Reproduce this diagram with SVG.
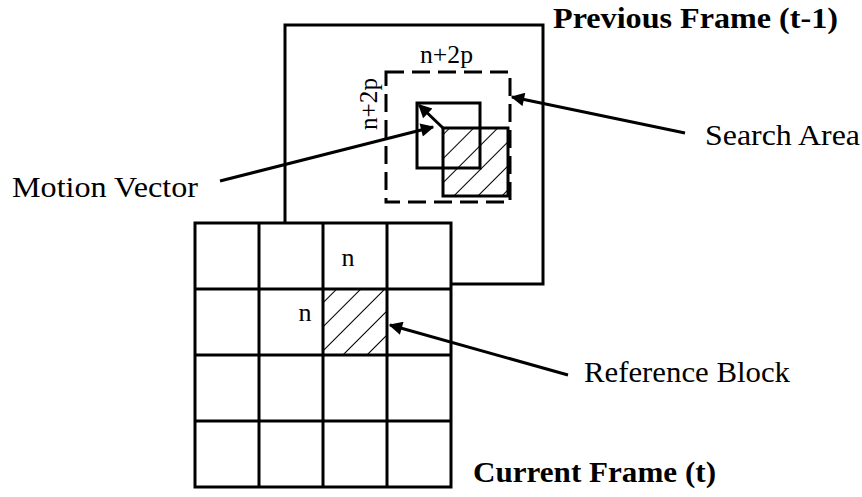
<svg xmlns="http://www.w3.org/2000/svg" width="862" height="497" viewBox="0 0 862 497">
<style>
.frame{fill:#fff;stroke:#000;stroke-width:3}
.grid{fill:none;stroke:#000;stroke-width:3}
.dash{fill:none;stroke:#000;stroke-width:3;stroke-dasharray:18 8}
.blk{fill:none;stroke:#000;stroke-width:3}
.lead{fill:none;stroke:#000;stroke-width:3}
.lbl{font-family:"Liberation Serif","Times New Roman",serif;font-size:29px;fill:#000}
.ttl{font-family:"Liberation Serif","Times New Roman",serif;font-size:29px;font-weight:bold;fill:#000}
.sm{font-family:"Liberation Serif","Times New Roman",serif;font-size:26px;fill:#000}
</style>
<defs>
<pattern id="hatch" patternUnits="userSpaceOnUse" width="17" height="17" patternTransform="rotate(45)">
<line x1="0" y1="0" x2="0" y2="17" stroke="#000" stroke-width="2"/>
</pattern>
<marker id="ah" viewBox="0 0 10 10" refX="9" refY="5" markerWidth="6" markerHeight="4.5" orient="auto" markerUnits="strokeWidth">
<path d="M0,0 L10,5 L0,10 Z" fill="#000"/>
</marker>
</defs>
<g id="previous-frame">
<rect class="frame" x="285" y="25" width="258" height="259"/>
<text class="ttl" x="553" y="28" textLength="285" lengthAdjust="spacingAndGlyphs">Previous Frame (t-1)</text>
</g>
<g id="search-area">
<rect class="dash" x="386" y="72" width="124" height="130"/>
<text class="sm" x="420" y="63" textLength="53" lengthAdjust="spacingAndGlyphs">n+2p</text>
<text class="sm" transform="translate(377,130) rotate(-90)" x="0" y="0" textLength="52" lengthAdjust="spacingAndGlyphs">n+2p</text>
</g>
<g id="matched-block">
<rect fill="url(#hatch)" x="443" y="128" width="65" height="68"/>
<rect class="blk" x="443" y="128" width="65" height="68"/>
</g>
<g id="candidate-block">
<rect class="blk" x="417" y="103" width="63" height="65"/>
</g>
<g id="current-frame">
<rect fill="#fff" x="195" y="223" width="256" height="264"/>
<rect fill="url(#hatch)" x="323" y="289" width="64" height="66"/>
<path class="grid" d="M195,223 H451 V487 H195 Z M259,223 V487 M323,223 V487 M387,223 V487 M195,289 H451 M195,355 H451 M195,421 H451"/>
<text class="sm" x="348" y="266" text-anchor="middle">n</text>
<text class="sm" x="305" y="321" text-anchor="middle">n</text>
<text class="ttl" x="473" y="482" textLength="243" lengthAdjust="spacingAndGlyphs">Current Frame (t)</text>
</g>
<g id="labels">
<text class="lbl" x="12" y="197" textLength="186" lengthAdjust="spacingAndGlyphs">Motion Vector</text>
<text class="lbl" x="705" y="145" textLength="155" lengthAdjust="spacingAndGlyphs">Search Area</text>
<text class="lbl" x="584" y="382" textLength="206" lengthAdjust="spacingAndGlyphs">Reference Block</text>
</g>
<g id="connectors">
<line class="lead" x1="443" y1="128" x2="419" y2="105" marker-end="url(#ah)"/>
<line class="lead" x1="220" y1="181" x2="433" y2="127" marker-end="url(#ah)"/>
<line class="lead" x1="685" y1="133" x2="512" y2="97" marker-end="url(#ah)"/>
<line class="lead" x1="568" y1="375" x2="390" y2="325" marker-end="url(#ah)"/>
</g>
</svg>
